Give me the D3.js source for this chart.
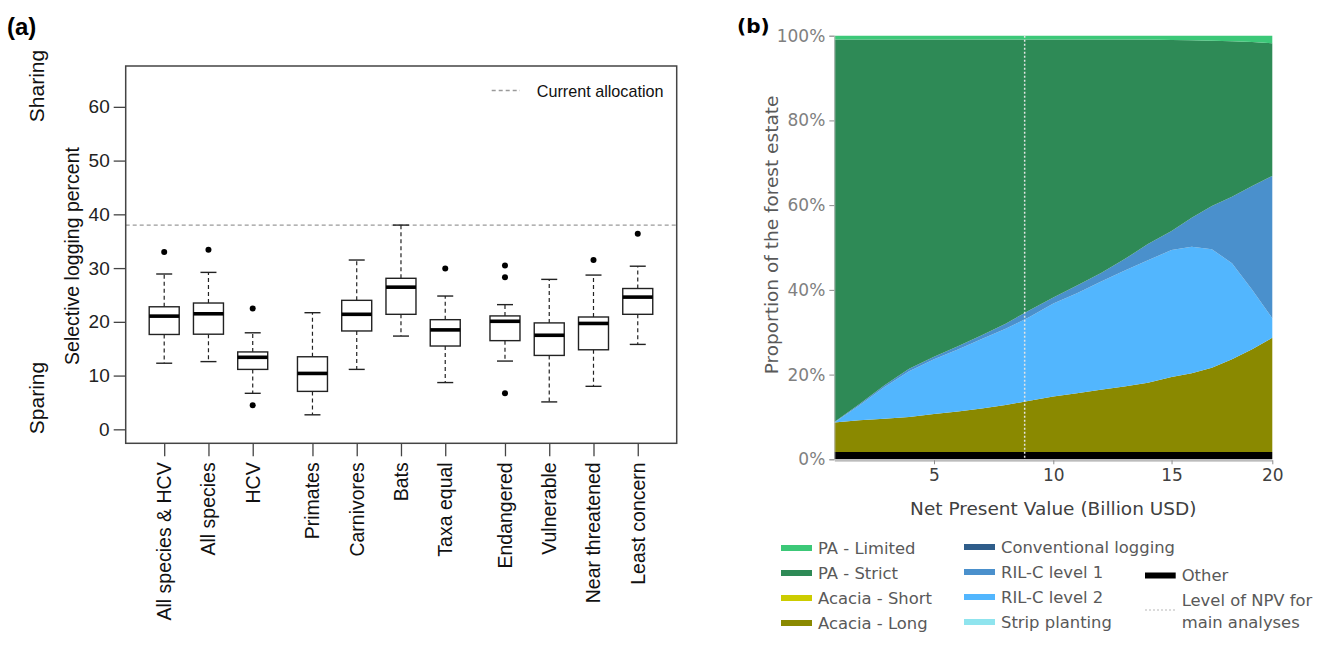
<!DOCTYPE html>
<html>
<head>
<meta charset="utf-8">
<script src="https://cdn.jsdelivr.net/npm/d3@7"></script>
<style>
  body { margin: 0; background: #fff; }
</style>
</head>
<body>
<svg id="fig" width="1330" height="651"></svg>
<script>
// ---- panel (a): selective logging boxplots ----
const boxCategories = ['All species & HCV', 'All species', 'HCV', 'Primates', 'Carnivores', 'Bats',
  'Taxa equal', 'Endangered', 'Vulnerable', 'Near threatened', 'Least concern'];
const boxGroup = [0, 0, 0, 1, 1, 1, 1, 2, 2, 2, 2];
const whiskLo = [12.3, 12.6, 6.7, 2.7, 11.15, 17.35, 8.7, 12.7, 5.1, 8.0, 15.8];
const q1 = [17.65, 17.7, 11.15, 7.06, 18.3, 21.4, 15.5, 16.5, 13.75, 14.8, 21.4];
const median = [21.06, 21.5, 13.4, 10.4, 21.4, 26.45, 18.5, 20.1, 17.5, 19.7, 24.6];
const q3 = [22.8, 23.5, 14.4, 13.5, 24.0, 28.1, 20.4, 21.1, 19.8, 20.9, 26.2];
const whiskHi = [28.9, 29.2, 17.96, 21.7, 31.5, 38.0, 24.8, 23.2, 27.9, 28.7, 30.35];
const outliers = [[33], [33.4], [22.5, 4.46], [], [], [], [29.9], [30.5, 28.3, 6.7], [], [31.5], [36.4]];
const currentAllocation = 38;
const yTicksA = [0, 10, 20, 30, 40, 50, 60];

// ---- panel (b): land allocation vs NPV (percent of forest estate) ----
const npv = [1, 2, 3, 4, 5, 6, 7, 8, 9, 10, 11, 12, 13, 14, 15, 16, 17, 18, 19, 20];
const other = [1.7, 1.7, 1.7, 1.7, 1.7, 1.7, 1.7, 1.7, 1.7, 1.7, 1.7, 1.7, 1.7, 1.7, 1.7, 1.7, 1.7, 1.7, 1.7, 1.7];
const acaciaLong = [7.0, 7.5, 7.9, 8.3, 9.0, 9.6, 10.3, 11.1, 12.1, 13.1, 13.9, 14.7, 15.5, 16.4, 17.7, 18.6, 19.9, 21.9, 24.3, 27.0];
const acaciaShort = [0, 0, 0, 0, 0, 0, 0, 0, 0, 0, 0, 0, 0, 0, 0, 0, 0, 0, 0, 0];
const rilc2 = [0.0, 3.5, 7.4, 10.8, 12.9, 14.6, 16.4, 18.0, 19.8, 22.0, 23.6, 25.5, 27.3, 28.9, 30.0, 29.9, 28.0, 22.7, 14.0, 4.6];
const rilc1 = [0.1, 0.3, 0.4, 0.6, 0.6, 0.8, 0.9, 1.2, 1.6, 1.4, 1.8, 2.0, 2.7, 3.8, 4.5, 6.8, 10.2, 15.7, 24.5, 33.6];
const conventional = [0, 0, 0, 0, 0, 0, 0, 0, 0, 0, 0, 0, 0, 0, 0, 0, 0, 0, 0, 0];
const strip = [0, 0, 0, 0, 0, 0, 0, 0, 0, 0, 0, 0, 0, 0, 0, 0, 0, 0, 0, 0];
const paStrict = [90.3, 86.1, 81.7, 77.7, 74.9, 72.4, 69.8, 67.1, 63.9, 60.9, 58.1, 55.2, 51.9, 48.3, 45.1, 41.9, 39.0, 36.7, 34.0, 31.3];
const paLimited = [0.9, 0.9, 0.9, 0.9, 0.9, 0.9, 0.9, 0.9, 0.9, 0.9, 0.9, 0.9, 0.9, 0.9, 1.0, 1.1, 1.2, 1.3, 1.5, 1.8];
const npvMain = 8.8;
const xTicksB = [5, 10, 15, 20];
const yTicksB = [0, 20, 40, 60, 80, 100];

const svg = d3.select('#fig');
svg.append('rect').attr('width', 1330).attr('height', 651).attr('fill', '#fff');

// ================= panel (a) =================
const A = { left: 125.7, right: 676.7, top: 66, bottom: 443.3 };
const groupGap = 0.35;
const boxPos = boxCategories.map((d, i) => i + 1 + boxGroup[i] * groupGap);

const xA = d3.scaleLinear().domain([0.13, 12.58]).range([A.left, A.right]);
const yA = d3.scaleLinear().domain([-2.6, 67.6]).range([A.bottom, A.top]);
const fontA = 'Liberation Sans, Arial, sans-serif';

const gA = svg.append('g');

// reference line
gA.append('line')
  .attr('x1', A.left).attr('x2', A.right)
  .attr('y1', yA(currentAllocation)).attr('y2', yA(currentAllocation))
  .attr('stroke', '#9a9a9a').attr('stroke-width', 1.3).attr('stroke-dasharray', '4,3');

const hw = 15, cw = 8;
boxCategories.forEach((c, i) => {
  const cx = xA(boxPos[i]);
  const g = gA.append('g');
  // whiskers
  g.append('line').attr('x1', cx).attr('x2', cx).attr('y1', yA(q3[i])).attr('y2', yA(whiskHi[i]))
    .attr('stroke', '#222').attr('stroke-width', 1.2).attr('stroke-dasharray', '4,3');
  g.append('line').attr('x1', cx).attr('x2', cx).attr('y1', yA(q1[i])).attr('y2', yA(whiskLo[i]))
    .attr('stroke', '#222').attr('stroke-width', 1.2).attr('stroke-dasharray', '4,3');
  [whiskHi[i], whiskLo[i]].forEach(v => {
    g.append('line').attr('x1', cx - cw).attr('x2', cx + cw).attr('y1', yA(v)).attr('y2', yA(v))
      .attr('stroke', '#222').attr('stroke-width', 1.4);
  });
  // box
  g.append('rect').attr('x', cx - hw).attr('width', hw * 2)
    .attr('y', yA(q3[i])).attr('height', yA(q1[i]) - yA(q3[i]))
    .attr('fill', '#fff').attr('stroke', '#222').attr('stroke-width', 1.4);
  g.append('line').attr('x1', cx - hw).attr('x2', cx + hw).attr('y1', yA(median[i])).attr('y2', yA(median[i]))
    .attr('stroke', '#000').attr('stroke-width', 3.6);
  g.selectAll('circle').data(outliers[i]).enter().append('circle')
    .attr('cx', cx).attr('cy', d => yA(d)).attr('r', 3).attr('fill', '#000');
});

// frame
gA.append('rect').attr('x', A.left).attr('y', A.top)
  .attr('width', A.right - A.left).attr('height', A.bottom - A.top)
  .attr('fill', 'none').attr('stroke', '#444').attr('stroke-width', 1.5);

// y axis
const yAxisA = gA.append('g').attr('transform', `translate(${A.left},0)`)
  .call(d3.axisLeft(yA).tickValues(yTicksA).tickSize(12).tickPadding(4));
yAxisA.select('.domain').remove();
yAxisA.selectAll('line').attr('stroke', '#444').attr('stroke-width', 1.3);
yAxisA.selectAll('text').attr('font-family', fontA).attr('font-size', 19).attr('fill', '#222');

// x ticks + rotated labels
const xAxisA = gA.append('g').attr('transform', `translate(0,${A.bottom})`)
  .call(d3.axisBottom(xA).tickValues(boxPos).tickSize(13).tickFormat(''));
xAxisA.select('.domain').remove();
xAxisA.selectAll('line').attr('stroke', '#444').attr('stroke-width', 1.3);
gA.selectAll('.catlab').data(boxCategories).enter().append('text')
  .attr('class', 'catlab')
  .attr('transform', (d, i) => `translate(${xA(boxPos[i])},${A.bottom + 19}) rotate(-90)`)
  .attr('text-anchor', 'end').attr('dominant-baseline', 'central')
  .attr('font-family', fontA).attr('font-size', 19.5).attr('fill', '#111')
  .text(d => d);

// titles
gA.append('text').attr('transform', 'translate(72,256) rotate(-90)')
  .attr('text-anchor', 'middle').attr('dominant-baseline', 'central')
  .attr('font-family', fontA).attr('font-size', 19.5).attr('fill', '#111')
  .text('Selective logging percent');
gA.append('text').attr('transform', 'translate(36,86) rotate(-90)')
  .attr('text-anchor', 'middle').attr('dominant-baseline', 'central')
  .attr('font-family', fontA).attr('font-size', 21).attr('fill', '#111').text('Sharing');
gA.append('text').attr('transform', 'translate(36,398) rotate(-90)')
  .attr('text-anchor', 'middle').attr('dominant-baseline', 'central')
  .attr('font-family', fontA).attr('font-size', 21).attr('fill', '#111').text('Sparing');
gA.append('text').attr('x', 7).attr('y', 35)
  .attr('font-family', fontA).attr('font-weight', 'bold').attr('font-size', 24).attr('fill', '#000').text('(a)');

// legend
gA.append('line').attr('x1', 491.7).attr('x2', 520).attr('y1', 90.5).attr('y2', 90.5)
  .attr('stroke', '#9a9a9a').attr('stroke-width', 1.3).attr('stroke-dasharray', '4,3');
gA.append('text').attr('x', 536.7).attr('y', 90.5).attr('dominant-baseline', 'central')
  .attr('font-family', fontA).attr('font-size', 16.2).attr('fill', '#111').text('Current allocation');

// ================= panel (b) =================
const B = { left: 834.3, right: 1272.3, top: 35.7, bottom: 459.3 };
const fontB = 'DejaVu Sans, Verdana, sans-serif';
const wB = B.right - B.left;
// category-style axis: uneven spacing of the NPV steps
const xB = d3.scaleLinear().domain([1, 5, 10, 15, 20])
  .range([0, 0.2276, 0.5, 0.770, 1].map(f => B.left + f * wB));
const yB = d3.scaleLinear().domain([0, 100]).range([B.bottom, B.top]);

const seriesKeys = ['Other', 'Acacia - Long', 'Acacia - Short', 'RIL-C level 2', 'RIL-C level 1',
  'Conventional logging', 'Strip planting', 'PA - Strict', 'PA - Limited'];
const seriesVals = [other, acaciaLong, acaciaShort, rilc2, rilc1, conventional, strip, paStrict, paLimited];
const colors = {
  'PA - Limited': '#3cc878',
  'PA - Strict': '#2e8a56',
  'Acacia - Short': '#cccc00',
  'Acacia - Long': '#8a8900',
  'Conventional logging': '#2f5d8a',
  'RIL-C level 1': '#4a90cc',
  'RIL-C level 2': '#52b6fe',
  'Strip planting': '#8fe4ee',
  'Other': '#000000'
};

const rows = npv.map((n, i) => {
  const r = { npv: n };
  seriesKeys.forEach((k, j) => { r[k] = seriesVals[j][i]; });
  return r;
});
const stacked = d3.stack().keys(seriesKeys)(rows);
const area = d3.area()
  .x(d => xB(d.data.npv))
  .y0(d => yB(d[0]))
  .y1(d => yB(d[1]));

const gB = svg.append('g');
gB.selectAll('.layer').data(stacked).enter().append('path')
  .attr('class', 'layer')
  .attr('d', area)
  .attr('fill', d => colors[d.key]);

// NPV used in main analyses
gB.append('line').attr('x1', xB(npvMain)).attr('x2', xB(npvMain))
  .attr('y1', B.top).attr('y2', B.bottom + 1)
  .attr('stroke', '#e4e4e4').attr('stroke-width', 1.5).attr('stroke-dasharray', '2,2');

// axes
const yAxisB = gB.append('g').attr('transform', `translate(${B.left},0)`)
  .call(d3.axisLeft(yB).tickValues(yTicksB).tickSize(5).tickPadding(4).tickFormat(d => d + '%'));
yAxisB.select('.domain').attr('stroke', '#bfbfbf');
yAxisB.selectAll('line').attr('stroke', '#8c8c8c');
yAxisB.selectAll('text').attr('font-family', fontB).attr('font-size', 17).attr('fill', '#808080');

const xAxisB = gB.append('g').attr('transform', `translate(0,${B.bottom + 1})`)
  .call(d3.axisBottom(xB).tickValues(xTicksB).tickSize(4).tickPadding(5).tickSizeOuter(0));
xAxisB.select('.domain').attr('stroke', '#a6a6a6').attr('stroke-width', 1.3);
xAxisB.selectAll('line').attr('stroke', '#8c8c8c');
xAxisB.selectAll('text').attr('font-family', fontB).attr('font-size', 17).attr('fill', '#404040');

gB.append('text').attr('x', (B.left + B.right) / 2).attr('y', 508)
  .attr('text-anchor', 'middle').attr('dominant-baseline', 'central')
  .attr('font-family', fontB).attr('font-size', 18.5).attr('fill', '#404040')
  .text('Net Present Value (Billion USD)');
gB.append('text').attr('transform', 'translate(771.7,235) rotate(-90)')
  .attr('text-anchor', 'middle').attr('dominant-baseline', 'central')
  .attr('font-family', fontB).attr('font-size', 18.5).attr('fill', '#595959')
  .text('Proportion of the forest estate');
gB.append('text').attr('x', 737).attr('y', 33)
  .attr('font-family', fontB).attr('font-weight', 'bold').attr('font-size', 20).attr('fill', '#000').text('(b)');

// legend
const legendCols = [
  { x: 781, keys: ['PA - Limited', 'PA - Strict', 'Acacia - Short', 'Acacia - Long'], y0: 548 },
  { x: 964, keys: ['Conventional logging', 'RIL-C level 1', 'RIL-C level 2', 'Strip planting'], y0: 547 }
];
const legend = gB.append('g');
legendCols.forEach(col => {
  col.keys.forEach((k, i) => {
    const y = col.y0 + i * 25;
    legend.append('line').attr('x1', col.x).attr('x2', col.x + 31).attr('y1', y).attr('y2', y)
      .attr('stroke', colors[k]).attr('stroke-width', 6);
    legend.append('text').attr('x', col.x + 37).attr('y', y).attr('dominant-baseline', 'central')
      .attr('font-family', fontB).attr('font-size', 16.4).attr('fill', '#595959').text(k);
  });
});
legend.append('line').attr('x1', 1145).attr('x2', 1175.7).attr('y1', 575.5).attr('y2', 575.5)
  .attr('stroke', colors['Other']).attr('stroke-width', 6);
legend.append('text').attr('x', 1181.7).attr('y', 575.5).attr('dominant-baseline', 'central')
  .attr('font-family', fontB).attr('font-size', 16.4).attr('fill', '#595959').text('Other');
legend.append('line').attr('x1', 1145).attr('x2', 1175.7).attr('y1', 610).attr('y2', 610)
  .attr('stroke', '#d0d0d0').attr('stroke-width', 1.5).attr('stroke-dasharray', '2,2');
legend.append('text').attr('x', 1181.7).attr('y', 600).attr('dominant-baseline', 'central')
  .attr('font-family', fontB).attr('font-size', 16.4).attr('fill', '#595959').text('Level of NPV for');
legend.append('text').attr('x', 1181.7).attr('y', 622).attr('dominant-baseline', 'central')
  .attr('font-family', fontB).attr('font-size', 16.4).attr('fill', '#595959').text('main analyses');
</script>
</body>
</html>
